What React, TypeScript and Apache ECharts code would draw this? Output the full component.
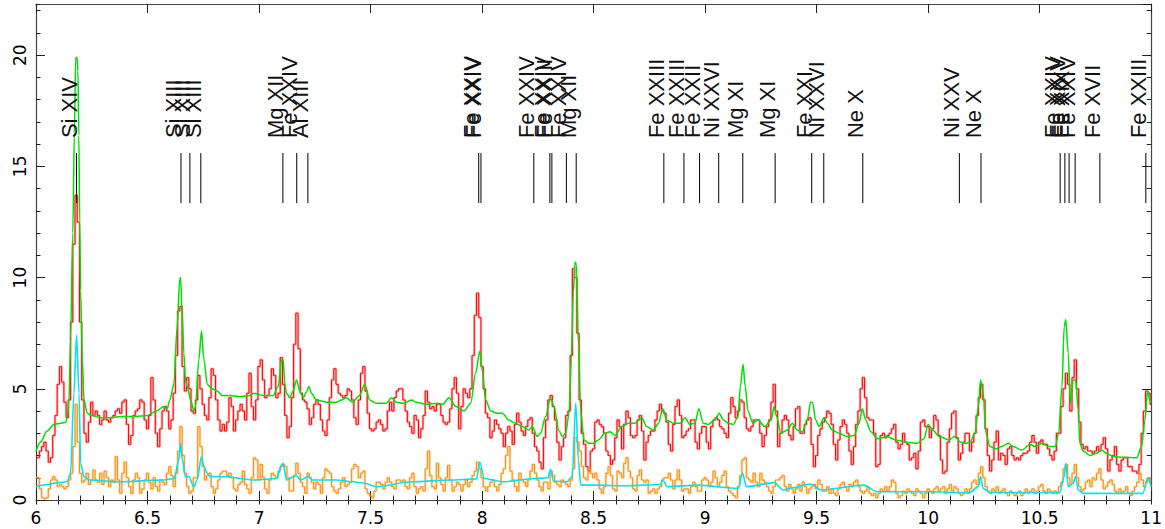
import React, { useEffect, useRef } from "react";
import * as echarts from "echarts";

// ---- data ----
const BIN_START = 6.0;
const BIN_STEP = 0.01;

const redCounts = [
  1.9,1.9,2.2,2.4,2.6,2.2,1.7,1.9,2.9,3.8,
  5.2,6.0,5.3,4.4,3.7,4.5,8.0,11.5,13.7,12.5,
  8.0,4.5,3.0,2.6,3.5,4.4,3.8,4.0,3.8,3.4,
  3.6,4.0,3.6,3.5,3.7,3.8,4.0,4.1,3.9,4.4,
  4.5,3.4,2.5,2.9,3.8,4.0,4.1,4.5,4.4,3.6,
  3.2,3.8,5.5,4.5,3.0,2.4,3.2,4.0,4.2,4.0,
  3.2,3.6,4.8,6.5,8.5,8.7,6.0,4.9,5.5,5.0,
  4.0,3.9,4.5,5.6,5.0,4.3,3.8,3.6,4.6,5.9,
  5.6,4.5,3.6,3.1,3.4,
  3.1,3.5,4.6,4.2,3.1,3.6,4.0,4.3,4.0,3.6,
  4.8,5.7,4.2,3.6,4.5,6.0,6.3,5.4,4.6,4.7,
  5.0,5.9,5.6,4.6,4.8,6.4,5.2,3.8,2.8,3.3,
  4.6,7.0,8.4,6.8,4.8,4.5,4.4,4.1,3.4,3.7,
  4.3,4.5,4.3,3.6,3.1,2.9,3.6,4.6,5.4,5.9,
  5.2,4.8,4.7,4.6,4.7,5.0,4.9,4.5,3.7,3.4,
  4.5,5.7,6.0,4.9,3.9,3.2,3.1,3.2,3.5,3.6,
  3.4,3.1,3.2,4.0,4.4,4.0,4.6,4.9,5.0,5.0,
  4.5,4.0,3.5,3.3,
  3.0,3.8,3.6,2.8,3.2,3.8,4.9,4.4,4.1,4.2,
  4.0,4.3,4.3,3.8,3.5,3.4,3.5,4.1,5.0,5.5,
  4.8,3.2,4.2,5.0,4.8,4.6,5.0,6.5,8.3,9.3,
  8.2,6.0,5.0,3.9,3.7,2.8,3.1,3.6,3.4,3.2,
  3.0,2.4,3.0,3.3,3.1,2.5,3.4,3.9,3.5,3.1,
  2.9,3.3,3.6,3.7,3.0,2.4,2.2,1.7,1.4,2.8,
  3.6,4.5,4.7,4.2,3.6,2.6,1.8,2.4,2.8,3.8,
  4.0,6.5,10.4,10.0,7.5,4.5,3.0,2.5,1.5,1.3,
  2.2,2.3,3.5,
  3.6,3.4,3.3,3.0,2.2,2.0,1.6,1.8,2.8,3.6,
  3.3,2.3,3.4,4.0,3.7,2.9,2.8,2.9,3.6,3.8,
  3.1,1.8,2.6,2.9,3.1,3.1,3.6,4.0,4.3,4.0,
  3.9,3.5,2.5,2.2,3.4,4.2,4.5,3.8,2.8,2.9,
  3.1,3.2,3.6,3.6,2.6,2.3,3.0,3.3,3.3,2.6,
  2.3,3.3,3.6,3.7,3.6,3.3,3.2,3.0,2.8,3.9,
  4.6,4.2,3.7,4.0,4.5,4.4,3.7,3.2,3.1,3.3,
  3.6,3.6,3.6,3.0,2.4,2.9,3.3,3.6,4.4,5.2,
  4.0,2.4,3.0,3.6,
  3.8,3.6,2.9,2.7,3.3,4.1,4.2,3.0,3.0,3.4,
  3.6,3.7,2.5,1.5,2.0,2.9,3.2,3.5,3.7,4.0,
  3.9,3.4,2.5,1.8,2.7,3.3,3.6,3.4,3.0,2.2,
  1.6,2.4,3.4,4.0,5.0,5.5,4.6,3.7,3.6,3.6,
  3.0,1.5,1.6,2.9,3.0,2.8,2.9,3.0,3.2,3.4,
  2.6,2.3,2.5,3.0,2.6,2.5,1.8,1.9,2.1,1.4,
  2.2,3.5,3.6,3.3,3.3,2.8,3.2,3.8,3.6,2.9,
  1.8,1.2,1.3,2.6,3.2,3.9,4.0,2.8,1.8,2.1,
  2.6,3.0,3.0,
  2.2,2.6,3.0,3.8,4.6,5.2,4.5,3.2,2.0,1.3,
  1.8,2.6,3.1,1.8,2.1,2.0,1.6,2.3,2.4,2.0,
  1.8,1.9,1.8,2.0,2.1,2.1,2.2,2.6,2.9,2.6,
  2.1,2.6,2.7,2.5,2.5,2.3,2.0,1.8,2.2,3.0,
  3.0,4.2,5.0,5.7,5.2,4.0,5.5,6.3,5.0,3.5,
  2.5,2.3,2.4,2.2,2.2,2.1,2.2,2.4,2.2,2.5,
  2.8,2.3,1.3,1.8,2.0,2.4,1.6,1.3,1.8,1.9,
  1.9,1.5,1.5,1.3,1.3,1.2,1.6,3.0,4.0,4.9,
  4.8,4.3,
];

const orangeCounts = [
  1.0,1.0,0.5,0.1,0.05,0.1,0.5,0.9,1.05,0.9,
  0.6,0.7,0.6,0.5,0.6,0.9,1.2,2.4,4.3,2.6,
  1.2,0.8,0.9,1.2,0.7,0.9,1.35,0.9,0.8,1.2,
  0.7,1.3,1.0,0.6,0.9,0.8,1.95,0.9,0.3,1.2,
  1.7,1.0,0.6,0.3,0.9,1.2,1.0,0.3,0.5,0.9,
  1.2,0.8,0.5,1.0,0.6,0.4,0.9,0.8,0.7,1.2,
  1.5,1.1,0.6,1.2,2.2,3.3,2.0,1.2,0.6,0.3,
  0.4,1.0,1.0,3.3,2.4,1.5,0.9,1.1,1.2,0.6,
  0.3,0.5,0.9,1.2,1.3,
  1.3,1.1,1.2,1.0,0.5,0.4,0.7,0.8,1.3,0.7,
  0.5,0.3,1.0,1.9,1.8,0.9,1.6,1.0,0.5,0.3,
  0.9,1.2,1.1,1.0,1.3,1.5,1.6,1.5,1.0,0.4,
  0.4,1.1,1.65,1.2,0.8,0.6,0.3,1.2,1.0,0.8,
  0.5,0.8,0.7,0.3,1.0,1.4,1.3,1.2,0.6,0.4,
  0.3,0.5,0.8,1.0,0.6,0.7,0.8,1.4,1.6,1.5,
  1.0,1.2,1.3,0.5,0.3,0.2,0.1,0.4,0.8,0.8,
  0.7,0.5,0.8,1.0,0.8,0.6,0.5,0.9,0.9,0.8,
  0.9,0.6,0.5,1.0,
  1.2,0.6,0.3,0.5,0.6,0.4,1.4,2.2,1.1,0.6,
  0.5,1.65,1.0,0.7,0.4,1.0,1.55,0.9,0.4,0.6,
  0.8,0.7,0.4,0.7,0.9,0.6,0.8,1.1,1.3,1.7,
  1.4,1.0,0.6,0.4,0.6,0.8,0.9,0.6,0.4,0.7,
  1.2,1.4,2.0,2.4,1.3,0.9,0.6,0.4,1.2,0.9,
  0.8,0.6,0.9,1.3,1.6,1.2,0.9,0.6,0.4,0.8,
  0.8,0.5,1.3,1.1,0.8,0.7,0.6,0.9,0.8,0.7,
  0.6,0.9,1.4,2.8,2.6,2.2,1.5,1.0,0.9,1.4,
  1.2,1.0,1.2,
  0.9,0.5,0.3,0.6,1.2,1.5,1.1,0.5,0.4,1.3,
  1.2,1.0,1.65,1.9,1.3,1.0,0.5,0.4,1.1,1.35,
  0.9,0.8,0.9,0.3,0.4,0.5,0.3,0.5,0.6,0.9,
  1.0,1.0,1.2,0.9,0.5,0.9,1.35,0.9,0.4,0.5,
  0.5,0.3,0.6,0.8,0.6,0.4,0.4,0.9,1.0,0.9,
  0.6,0.8,1.3,1.0,0.6,0.8,1.1,1.3,0.6,0.4,
  0.3,0.2,0.1,0.6,1.1,1.8,1.9,1.0,0.9,0.8,
  1.2,0.8,0.6,1.2,0.9,0.8,0.6,0.4,0.3,0.6,
  0.9,0.9,1.0,1.1,
  0.6,0.4,0.7,0.5,0.3,0.5,0.7,0.4,0.8,0.6,
  0.3,0.5,0.6,0.7,0.5,0.9,0.7,0.4,0.4,0.6,
  0.3,0.5,0.3,0.2,0.5,0.7,0.8,0.6,0.4,0.7,
  0.6,0.8,0.9,0.6,0.4,0.3,0.4,0.6,0.3,0.2,
  0.3,0.1,0.3,0.5,0.4,0.6,0.4,0.6,0.9,0.8,
  0.3,0.1,0.2,0.4,0.3,0.5,0.4,0.3,0.2,0.5,
  0.4,0.3,0.1,0.3,0.5,0.4,0.3,0.5,0.6,0.4,
  0.5,0.6,0.3,0.5,0.7,0.4,0.6,0.5,0.3,0.2,
  0.3,0.5,0.3,
  0.5,0.8,0.9,0.7,1.2,1.5,1.0,0.6,0.4,0.3,
  0.5,0.4,0.6,0.3,0.4,0.5,0.3,0.2,0.4,0.3,
  0.2,0.3,0.4,0.2,0.3,0.5,0.3,0.4,0.5,0.3,
  0.4,0.6,0.7,0.4,0.3,0.5,0.4,0.3,0.4,0.3,
  0.6,0.8,1.4,1.6,1.0,0.7,1.2,1.6,1.0,0.6,
  0.4,0.5,0.8,0.9,0.6,1.0,0.9,1.2,1.4,0.9,
  0.5,0.6,0.8,0.9,0.7,0.4,0.3,0.5,0.3,0.4,
  0.6,0.3,0.2,0.4,0.6,0.8,1.2,0.9,0.6,0.8,
  1.0,0.8,
];

const greenModel: [number, number][] = [
  [6.0,2.2],[6.02,2.6],[6.05,3.1],[6.08,3.4],[6.11,3.45],[6.133,3.5],[6.14,3.7],[6.148,4.5],
  [6.155,7.3],[6.165,12],[6.172,16.5],[6.178,19.9],[6.184,19.9],[6.188,19.3],[6.192,16.4],
  [6.196,12.5],[6.2,9.4],[6.208,6.3],[6.215,4.5],[6.23,3.9],[6.25,3.8],[6.29,3.7],[6.32,3.7],
  [6.38,3.75],[6.44,3.75],[6.5,3.8],[6.54,4.0],[6.573,4.2],[6.588,4.1],[6.6,4.5],[6.618,5.2],
  [6.633,7.8],[6.644,9.9],[6.648,10.0],[6.655,8.5],[6.663,6.6],[6.67,5.4],[6.678,5.1],
  [6.693,4.5],[6.708,4.0],[6.715,4.2],[6.73,6.3],[6.742,7.6],[6.753,6.3],[6.768,5.2],
  [6.79,5.0],[6.812,4.9],[6.835,4.7],[6.87,4.7],[6.914,4.65],[6.959,4.7],[6.974,4.8],
  [7.018,4.7],[7.063,4.7],[7.086,5.1],[7.101,6.3],[7.108,6.3],[7.116,5.2],[7.123,4.8],
  [7.138,4.6],[7.153,4.9],[7.168,5.4],[7.183,4.9],[7.198,4.6],[7.212,4.85],[7.224,5.1],
  [7.235,4.8],[7.257,4.5],[7.302,4.4],[7.347,4.4],[7.37,4.5],[7.39,4.6],[7.42,4.4],[7.45,4.7],
  [7.474,5.2],[7.496,4.5],[7.526,4.35],[7.571,4.35],[7.594,4.6],[7.616,4.4],[7.646,4.35],
  [7.685,4.5],[7.703,4.4],[7.748,4.3],[7.8,4.35],[7.823,4.3],[7.852,4.6],[7.882,4.2],
  [7.919,4.0],[7.949,4.35],[7.971,5.7],[7.99,6.7],[8.001,5.8],[8.016,4.5],[8.039,4.0],
  [8.068,3.9],[8.091,3.9],[8.12,3.6],[8.15,3.45],[8.18,3.3],[8.21,3.15],[8.225,3.3],
  [8.248,2.85],[8.262,3.0],[8.285,3.75],[8.307,4.6],[8.322,4.2],[8.345,3.1],[8.36,2.85],
  [8.375,3.0],[8.39,3.9],[8.4,6.3],[8.409,9.3],[8.417,10.7],[8.423,10.6],[8.432,7.0],
  [8.442,4.0],[8.457,2.7],[8.479,2.55],[8.5,2.55],[8.521,2.7],[8.551,3.0],[8.574,3.07],
  [8.596,2.9],[8.626,3.3],[8.656,3.45],[8.686,3.45],[8.716,3.7],[8.738,3.3],[8.768,3.15],
  [8.791,3.45],[8.81,4.1],[8.828,3.6],[8.858,3.45],[8.888,3.45],[8.91,3.7],[8.932,3.4],
  [8.954,3.45],[8.972,4.1],[8.992,3.45],[9.014,3.4],[9.044,3.6],[9.063,3.9],[9.082,3.6],
  [9.104,3.45],[9.126,3.4],[9.148,3.75],[9.158,5.1],[9.17,6.1],[9.18,5.1],[9.192,4.0],
  [9.214,3.45],[9.237,3.6],[9.267,3.3],[9.297,3.6],[9.309,4.2],[9.321,3.75],[9.339,3.0],
  [9.369,3.15],[9.391,3.45],[9.413,3.15],[9.436,3.07],[9.458,3.6],[9.473,4.4],[9.481,4.4],
  [9.496,3.6],[9.511,3.3],[9.533,3.7],[9.548,3.45],[9.57,3.15],[9.6,3.0],[9.638,2.85],
  [9.668,2.9],[9.69,3.45],[9.705,4.1],[9.72,3.6],[9.743,3.07],[9.773,2.75],[9.817,2.85],
  [9.855,2.7],[9.9,2.6],[9.952,2.55],[9.982,2.77],[10.0,3.4],[10.02,3.15],[10.05,2.85],
  [10.094,2.7],[10.117,2.85],[10.147,2.6],[10.169,2.55],[10.188,2.6],[10.21,3.0],[10.225,4.2],
  [10.235,5.4],[10.247,4.8],[10.259,3.0],[10.277,2.4],[10.307,2.3],[10.33,2.4],[10.36,2.55],
  [10.382,2.4],[10.42,2.25],[10.457,2.5],[10.48,2.4],[10.51,2.55],[10.54,2.4],[10.57,2.4],
  [10.585,3.0],[10.6,5.1],[10.61,7.8],[10.617,8.1],[10.628,6.6],[10.638,4.35],[10.65,5.4],
  [10.661,5.4],[10.673,4.05],[10.68,2.55],[10.695,2.2],[10.725,2.0],[10.755,2.1],[10.777,2.25],
  [10.8,2.1],[10.83,1.95],[10.875,1.92],[10.935,1.9],[10.957,2.4],[10.972,3.6],[10.984,4.9],
  [10.994,4.5],[11.0,4.4],
];

const cyanModel: [number, number][] = [
  [6.0,0.6],[6.05,0.7],[6.1,0.78],[6.14,0.82],[6.155,1.2],[6.17,4.8],[6.182,7.4],[6.193,4.8],
  [6.2,1.65],[6.215,1.05],[6.24,0.9],[6.365,0.82],[6.573,0.9],[6.62,0.97],[6.64,1.8],
  [6.648,2.55],[6.656,1.8],[6.67,1.05],[6.685,1.05],[6.708,0.6],[6.722,0.9],[6.742,1.95],
  [6.753,1.5],[6.768,1.2],[6.78,1.05],[6.85,1.05],[6.974,0.9],[7.079,0.97],[7.101,1.57],
  [7.108,1.65],[7.123,0.9],[7.168,1.1],[7.185,0.9],[7.22,1.05],[7.24,0.9],[7.347,0.9],
  [7.422,0.82],[7.474,0.75],[7.526,0.6],[7.685,0.82],[7.852,0.9],[7.975,0.95],[7.99,1.7],
  [8.01,0.97],[8.091,0.82],[8.233,0.97],[8.295,1.0],[8.307,1.38],[8.32,0.85],[8.38,0.82],
  [8.404,1.05],[8.42,4.35],[8.432,1.8],[8.442,0.67],[8.518,0.67],[8.64,0.64],[8.8,0.7],
  [8.81,0.9],[8.83,0.6],[8.97,0.67],[9.148,0.52],[9.168,1.2],[9.185,0.6],[9.31,0.78],
  [9.35,0.45],[9.391,0.55],[9.473,0.72],[9.52,0.45],[9.71,0.67],[9.773,0.37],[10.0,0.37],
  [10.185,0.33],[10.225,0.6],[10.235,1.05],[10.247,0.52],[10.277,0.34],[10.59,0.33],
  [10.61,1.05],[10.617,1.65],[10.628,0.6],[10.65,0.75],[10.661,1.05],[10.673,0.45],
  [10.695,0.3],[10.963,0.3],[10.984,0.97],[11.0,0.6],
];

const lineWaves = [
  6.182, 6.650, 6.690, 6.739, 7.107, 7.169, 7.219, 7.985, 7.995, 8.232, 8.304, 8.313,
  8.378, 8.422, 8.815, 8.905, 8.975, 9.061, 9.169, 9.314, 9.478, 9.532, 9.707, 10.140,
  10.237, 10.592, 10.613, 10.632, 10.659, 10.770, 10.976,
];
const lineNames = [
  "Si XIV", "Si XIII", "Si XIII", "Si XIII", "Mg XII", "Fe XXIV", "Al XIII", "Fe XXIV",
  "Fe XXIV", "Fe XXIV", "Fe XXIV", "Fe XXIII", "Fe XXIV", "Mg XII", "Fe XXIII", "Fe XXIII",
  "Fe XXII", "Ni XXVI", "Mg XI", "Mg XI", "Fe XXI", "Ni XXVI", "Ne X", "Ni XXV", "Ne X",
  "Fe XXIV", "Fe XXIV", "Fe XIX", "Fe XXIV", "Fe XVII", "Fe XXIII",
];

const X_MIN = 6;
const X_MAX = 11;
const Y_MIN = 0;
const Y_MAX = 22.3;

const MARK_TOP = 15.6;
const MARK_BOTTOM = 13.35;
const MARK_LABEL = 16.27;

export default function App() {
  const ref = useRef<HTMLDivElement>(null);

  useEffect(() => {
    if (!ref.current) return;
    const chart = echarts.init(ref.current, undefined, { renderer: "svg" });

    const redData = redCounts.map((v, i) => [BIN_START + i * BIN_STEP, v]);
    const orangeData = orangeCounts.map((v, i) => [BIN_START + i * BIN_STEP, v]);

    const axisLineStyle = { color: "#444", width: 1.2 };
    const tickStyle = { color: "#222", width: 1 };

    const xBase = {
      type: "value",
      min: X_MIN,
      max: X_MAX,
      splitLine: { show: false },
    };
    const yBase = {
      type: "value",
      min: Y_MIN,
      max: Y_MAX,
      splitLine: { show: false },
    };

    const option: any = {
      animation: false,
      backgroundColor: "#ffffff",
      grid: { left: 36, right: 13, top: 4, bottom: 29 },
      xAxis: [
        {
          ...xBase,
          position: "bottom",
          interval: 0.5,
          axisLine: { show: true, onZero: false, lineStyle: axisLineStyle },
          axisTick: { show: true, inside: true, length: 9, lineStyle: tickStyle },
          axisLabel: {
            show: true,
            margin: 9,
            color: "#000",
            fontFamily: "DejaVu Sans",
            fontSize: 17,
          },
        },
        {
          ...xBase,
          position: "bottom",
          interval: 0.1,
          axisLine: { show: false },
          axisTick: { show: true, inside: true, length: 4.5, lineStyle: tickStyle },
          axisLabel: { show: false },
        },
        {
          ...xBase,
          position: "top",
          interval: 0.5,
          axisLine: { show: true, onZero: false, lineStyle: axisLineStyle },
          axisTick: { show: true, inside: true, length: 9, lineStyle: tickStyle },
          axisLabel: { show: false },
        },
        {
          ...xBase,
          position: "top",
          interval: 0.1,
          axisLine: { show: false },
          axisTick: { show: true, inside: true, length: 4.5, lineStyle: tickStyle },
          axisLabel: { show: false },
        },
      ],
      yAxis: [
        {
          ...yBase,
          position: "left",
          interval: 5,
          axisLine: { show: true, onZero: false, lineStyle: axisLineStyle },
          axisTick: { show: true, inside: true, length: 9, lineStyle: tickStyle },
          axisLabel: {
            show: true,
            rotate: 90,
            margin: 8,
            color: "#000",
            fontFamily: "DejaVu Sans",
            fontSize: 17,
            showMaxLabel: false,
          },
        },
        {
          ...yBase,
          position: "left",
          interval: 1,
          axisLine: { show: false },
          axisTick: { show: true, inside: true, length: 4.5, lineStyle: tickStyle },
          axisLabel: { show: false },
        },
        {
          ...yBase,
          position: "right",
          interval: 5,
          axisLine: { show: true, onZero: false, lineStyle: axisLineStyle },
          axisTick: { show: true, inside: true, length: 9, lineStyle: tickStyle },
          axisLabel: { show: false },
        },
        {
          ...yBase,
          position: "right",
          interval: 1,
          axisLine: { show: false },
          axisTick: { show: true, inside: true, length: 4.5, lineStyle: tickStyle },
          axisLabel: { show: false },
        },
      ],
      series: [
        {
          type: "line",
          name: "data1-err",
          data: redData,
          step: "middle",
          symbol: "none",
          silent: true,
          lineStyle: { color: "rgba(255,70,70,0.38)", width: 2.6 },
          z: 2,
        },
        {
          type: "line",
          name: "data1",
          data: redData,
          step: "middle",
          symbol: "none",
          silent: true,
          lineStyle: { color: "#ff0000", width: 1 },
          z: 3,
        },
        {
          type: "line",
          name: "model1",
          data: greenModel,
          symbol: "none",
          smooth: 0.3,
          smoothMonotone: "x",
          silent: true,
          lineStyle: { color: "#00e000", width: 1.5 },
          z: 4,
        },
        {
          type: "line",
          name: "data2-err",
          data: orangeData,
          step: "middle",
          symbol: "none",
          silent: true,
          lineStyle: { color: "rgba(255,165,70,0.4)", width: 2.4 },
          z: 5,
        },
        {
          type: "line",
          name: "data2",
          data: orangeData,
          step: "middle",
          symbol: "none",
          silent: true,
          lineStyle: { color: "#ff8c00", width: 1 },
          z: 6,
        },
        {
          type: "line",
          name: "model2",
          data: cyanModel,
          symbol: "none",
          smooth: 0.3,
          smoothMonotone: "x",
          silent: true,
          lineStyle: { color: "#00e5f0", width: 1.6 },
          z: 7,
        },
        {
          type: "custom",
          name: "lines",
          silent: true,
          z: 8,
          data: lineWaves.map((w) => [w, MARK_TOP]),
          encode: { x: 0, y: 1 },
          renderItem: (params: any, api: any) => {
            const w = api.value(0);
            const p1 = api.coord([w, MARK_TOP]);
            const p2 = api.coord([w, MARK_BOTTOM]);
            const pt = api.coord([w, MARK_LABEL]);
            return {
              type: "group",
              children: [
                {
                  type: "line",
                  shape: { x1: p1[0], y1: p1[1], x2: p2[0], y2: p2[1] },
                  style: { stroke: "#000", lineWidth: 1 },
                },
                {
                  type: "text",
                  x: pt[0] - 7.5,
                  y: pt[1],
                  rotation: Math.PI / 2,
                  style: {
                    text: lineNames[params.dataIndex],
                    fill: "#111",
                    fontSize: 22,
                    fontFamily: "Liberation Sans",
                    align: "left",
                    verticalAlign: "middle",
                  },
                },
              ],
            };
          },
        },
      ],
    };

    chart.setOption(option);
    return () => chart.dispose();
  }, []);

  return (
    <div
      ref={ref}
      style={{
        position: "fixed",
        left: 0,
        top: 0,
        width: 1165,
        height: 529,
        background: "#fff",
      }}
    />
  );
}
